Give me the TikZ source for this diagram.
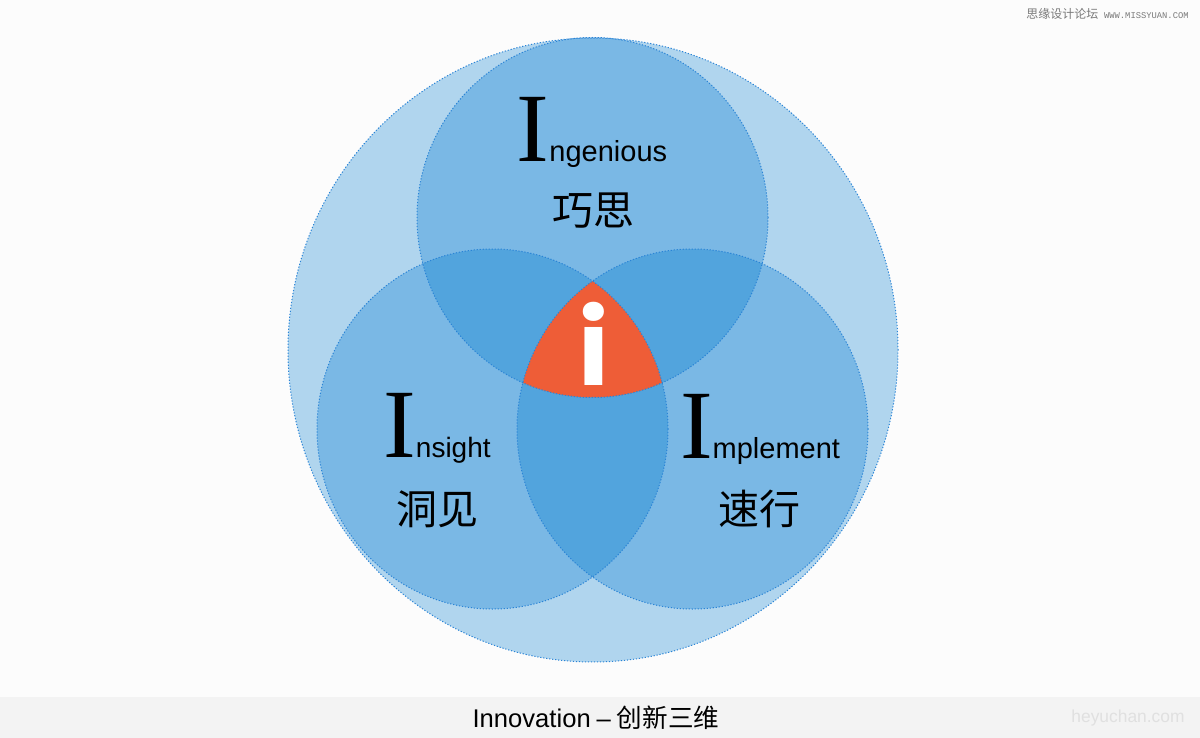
\documentclass[tikz,border=0pt]{standalone}
\usepackage{fontspec}
\setmainfont{Liberation Sans}
\newfontfamily\cjk{Noto Sans CJK SC}
\newfontfamily\serifI{Liberation Serif}
\newfontfamily\popp{Poppins}
\newfontfamily\monof{Liberation Mono}
\definecolor{bgcol}{HTML}{FCFCFC}
\definecolor{bandcol}{HTML}{F3F3F3}
\definecolor{bigcol}{HTML}{B0D5EE}
\definecolor{smallcol}{HTML}{7AB8E5}
\definecolor{overcol}{HTML}{52A4DD}
\definecolor{redcol}{HTML}{EE5D37}
\definecolor{bordercol}{HTML}{2A84D6}
\definecolor{wmcol}{HTML}{7A7A7A}
\definecolor{webcol}{HTML}{E0E0E0}
\def\bigC{(593,350) ellipse [x radius=152.5pt, y radius=156pt]}
\def\topC{(592.5,217.5) ellipse [x radius=87.75pt, y radius=90pt]}
\def\leftC{(492.5,429) ellipse [x radius=87.75pt, y radius=90pt]}
\def\rightC{(692.5,429) ellipse [x radius=87.75pt, y radius=90pt]}
\tikzset{
  border/.style={draw=bordercol, line width=0.5pt, dash pattern=on 0.6pt off 0.9pt},
  latin/.style={inner sep=0pt, anchor=base, text=black},
  chn/.style={inner sep=0pt, anchor=base, text=black, font=\cjk\fontsize{20.5}{24}\selectfont},
}
\begin{document}
\begin{tikzpicture}[x=0.5pt,y=-0.5pt]
\useasboundingbox (0,0) rectangle (1200,738);
\fill[bgcol] (0,0) rectangle (1200,738);
\fill[bandcol] (0,697) rectangle (1200,738);
% circles
\fill[bigcol] \bigC;
\fill[smallcol] \topC;
\fill[smallcol] \leftC;
\fill[smallcol] \rightC;
\begin{scope}
  \clip \topC;
  \fill[overcol] \leftC;
  \fill[overcol] \rightC;
\end{scope}
\begin{scope}
  \clip \leftC;
  \fill[overcol] \rightC;
\end{scope}
\begin{scope}
  \clip \topC;
  \clip \leftC;
  \fill[redcol] \rightC;
\end{scope}
\draw[border] \bigC;
\draw[border] \topC;
\draw[border] \leftC;
\draw[border] \rightC;
% center i
\node[inner sep=0pt, anchor=base, text=white, font=\popp\bfseries\fontsize{52}{60}\selectfont] (icon) at (594,385) {i};
% labels
\node[latin] (ingenious) at (592,162) {{\serifI\fontsize{49}{56}\selectfont I}{\fontsize{14.5}{17}\selectfont ngenious}};
\node[chn] (qiaosi) at (593,225) {巧思};
\node[latin] (insight) at (437,457) {{\serifI\fontsize{49}{56}\selectfont I}{\fontsize{14}{17}\selectfont nsight}};
\node[chn] (dongjian) at (437,524) {洞见};
\node[latin] (implement) at (760,458) {{\serifI\fontsize{49}{56}\selectfont I}{\fontsize{14.5}{17}\selectfont mplement}};
\node[chn] (suxing) at (759,524) {速行};
% bottom caption
\node[latin, font=\fontsize{12.8}{16}\selectfont] (caption) at (596,727) {Innovation\hspace{3pt}–\hspace{3pt}{\cjk 创新三维}};
\node[inner sep=0pt, anchor=base east, text=webcol, font=\fontsize{8.7}{10}\selectfont] (web) at (1185,722) {heyuchan.com};
% watermark
\node[inner sep=0pt, anchor=base east, text=wmcol, font=\monof\fontsize{4.4}{5}\selectfont] (wm2) at (1189,19) {WWW.MISSYUAN.COM};
\node[inner sep=0pt, anchor=base west, text=wmcol, font=\cjk\fontsize{6}{7}\selectfont] (wm1) at (1026,19) {思缘设计论坛};
\end{tikzpicture}
\end{document}
